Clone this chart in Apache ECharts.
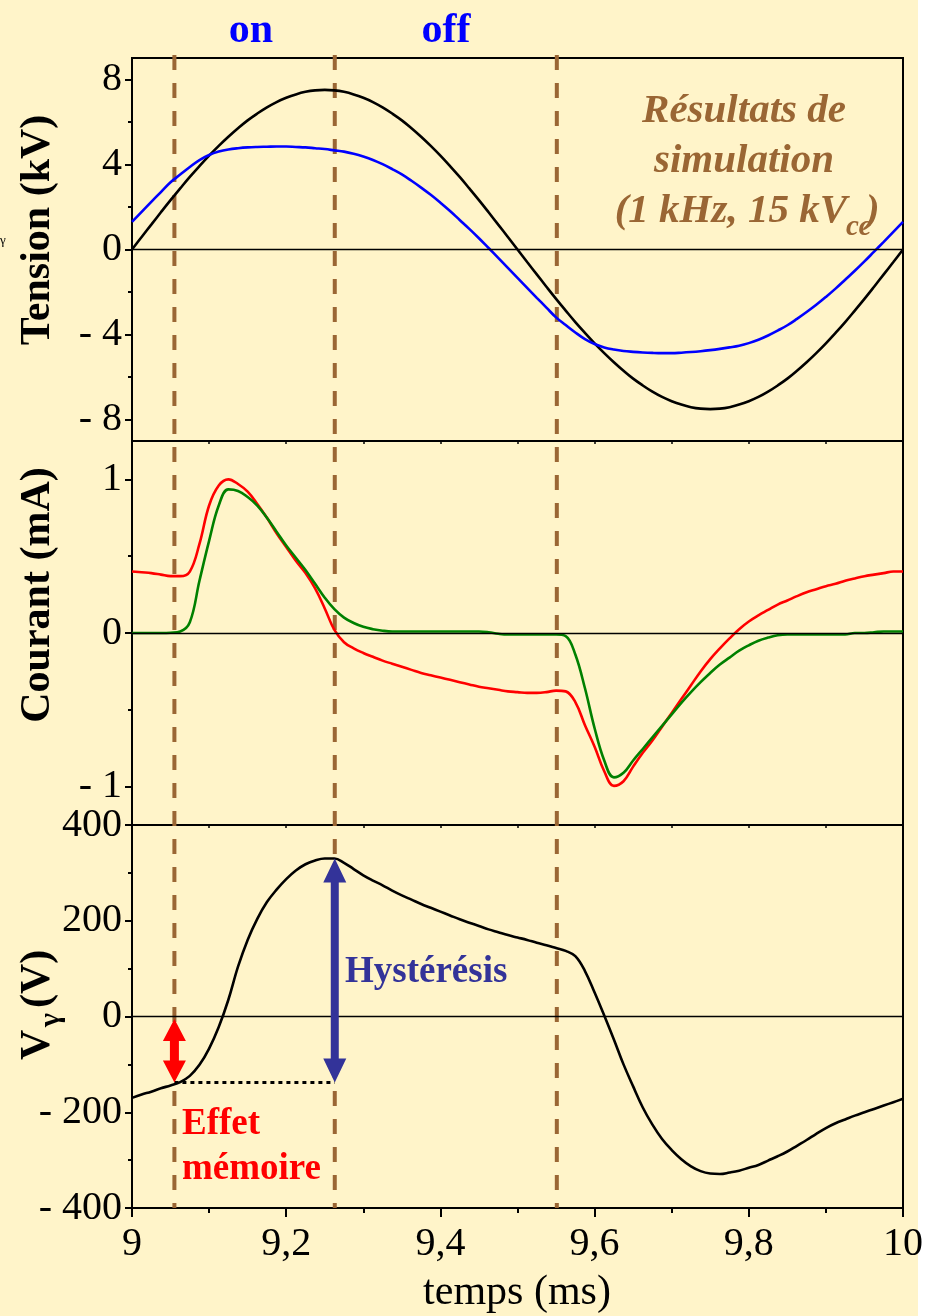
<!DOCTYPE html>
<html lang="fr">
<head>
<meta charset="utf-8">
<title>Décharge à barrière diélectrique – résultats de simulation</title>
<script src="https://cdn.jsdelivr.net/npm/echarts@6/dist/echarts.min.js"></script>
<style>
  html, body { margin: 0; padding: 0; background: #ffffff; }
  #chart {
    width: 941px; height: 1316px;
    background: linear-gradient(to right, #FFF4C9 0, #FFF4C9 918px, #ffffff 918px);
  }
</style>
</head>
<body>
<div id="chart"></div>
<script>
// Temps (ms), pas de 12,5 µs
const temps = [
  9.0000, 9.0125, 9.0250, 9.0375, 9.0500, 9.0625, 9.0750, 9.0875, 9.1000, 9.1125,
  9.1250, 9.1375, 9.1500, 9.1625, 9.1750, 9.1875, 9.2000, 9.2125, 9.2250, 9.2375,
  9.2500, 9.2625, 9.2750, 9.2875, 9.3000, 9.3125, 9.3250, 9.3375, 9.3500, 9.3625,
  9.3750, 9.3875, 9.4000, 9.4125, 9.4250, 9.4375, 9.4500, 9.4625, 9.4750, 9.4875,
  9.5000, 9.5125, 9.5250, 9.5375, 9.5500, 9.5625, 9.5750, 9.5875, 9.6000, 9.6125,
  9.6250, 9.6375, 9.6500, 9.6625, 9.6750, 9.6875, 9.7000, 9.7125, 9.7250, 9.7375,
  9.7500, 9.7625, 9.7750, 9.7875, 9.8000, 9.8125, 9.8250, 9.8375, 9.8500, 9.8625,
  9.8750, 9.8875, 9.9000, 9.9125, 9.9250, 9.9375, 9.9500, 9.9625, 9.9750, 9.9875,
  10.0000
];

// Tension appliquée (kV)
const tensionAppliquee = [
  0, 0.59, 1.17, 1.75, 2.32, 2.87, 3.41, 3.92, 4.41, 4.87,
  5.30, 5.70, 6.07, 6.39, 6.68, 6.93, 7.13, 7.29, 7.41, 7.48,
  7.50, 7.48, 7.41, 7.29, 7.13, 6.93, 6.68, 6.39, 6.07, 5.70,
  5.30, 4.87, 4.41, 3.92, 3.41, 2.87, 2.32, 1.75, 1.17, 0.59,
  0, -0.59, -1.17, -1.75, -2.32, -2.87, -3.41, -3.92, -4.41, -4.87,
  -5.30, -5.70, -6.07, -6.39, -6.68, -6.93, -7.13, -7.29, -7.41, -7.48,
  -7.50, -7.48, -7.41, -7.29, -7.13, -6.93, -6.68, -6.39, -6.07, -5.70,
  -5.30, -4.87, -4.41, -3.92, -3.41, -2.87, -2.32, -1.75, -1.17, -0.59,
  0
];

// Tension gaz (kV)
const tensionGaz = [
  1.30, 1.77, 2.24, 2.70, 3.16, 3.52, 3.88, 4.20, 4.44, 4.60,
  4.70, 4.76, 4.80, 4.82, 4.83, 4.84, 4.84, 4.82, 4.80, 4.76,
  4.72, 4.66, 4.60, 4.50, 4.37, 4.21, 4.01, 3.78, 3.53, 3.23,
  2.91, 2.57, 2.20, 1.81, 1.39, 0.97, 0.53, 0.07, -0.39, -0.86,
  -1.33, -1.80, -2.27, -2.73, -3.19, -3.55, -3.90, -4.21, -4.44, -4.60,
  -4.70, -4.77, -4.81, -4.84, -4.86, -4.87, -4.87, -4.85, -4.82, -4.78,
  -4.73, -4.67, -4.60, -4.52, -4.40, -4.24, -4.04, -3.81, -3.56, -3.26,
  -2.94, -2.60, -2.23, -1.84, -1.42, -1.00, -0.56, -0.10, 0.36, 0.83,
  1.30
];

// Courant total (mA)
const courantTotal = [
  0.40, 0.395, 0.39, 0.38, 0.37, 0.37, 0.40, 0.58, 0.83, 0.96,
  1.00, 0.97, 0.92, 0.84, 0.75, 0.65, 0.56, 0.47, 0.39, 0.29,
  0.16, 0.02, -0.06, -0.10, -0.13, -0.155, -0.18, -0.20, -0.22, -0.24,
  -0.26, -0.275, -0.29, -0.305, -0.32, -0.335, -0.35, -0.36, -0.37, -0.38,
  -0.385, -0.39, -0.39, -0.385, -0.375, -0.38, -0.45, -0.60, -0.74, -0.90,
  -0.995, -0.965, -0.87, -0.78, -0.70, -0.61, -0.52, -0.43, -0.34, -0.25,
  -0.17, -0.10, -0.035, 0.025, 0.075, 0.115, 0.15, 0.185, 0.212, 0.24,
  0.265, 0.285, 0.305, 0.32, 0.34, 0.355, 0.37, 0.38, 0.39, 0.40,
  0.40
];

// Courant de décharge (mA)
const courantDecharge = [
  0, 0, 0, 0, 0.002, 0.01, 0.07, 0.34, 0.60, 0.83,
  0.935, 0.925, 0.885, 0.83, 0.75, 0.66, 0.57, 0.49, 0.41, 0.32,
  0.23, 0.155, 0.10, 0.065, 0.04, 0.025, 0.015, 0.01, 0.01, 0.01,
  0.01, 0.01, 0.01, 0.01, 0.01, 0.01, 0.01, 0.005, -0.005, -0.01,
  -0.01, -0.01, -0.01, -0.01, -0.01, -0.02, -0.14, -0.36, -0.62, -0.83,
  -0.94, -0.91, -0.83, -0.755, -0.68, -0.605, -0.53, -0.455, -0.385, -0.32,
  -0.26, -0.205, -0.16, -0.115, -0.08, -0.05, -0.03, -0.015, -0.01, -0.01,
  -0.01, -0.01, -0.01, -0.01, -0.01, 0, 0, 0.005, 0.01, 0.01,
  0.01
];

// Tension Vγ (V)
const tensionGamma = [
  -170, -163, -157, -150, -144, -137, -124, -101, -67, -22,
  35, 104, 160, 204, 239, 265, 287, 305, 318, 326,
  330, 330, 321, 308, 295, 284, 274, 263, 253, 244,
  235, 227, 219, 211, 203, 196, 189, 182, 176, 170,
  165, 160, 154, 149, 143, 137, 126, 95, 50, 2,
  -48, -100, -146, -190, -226, -256, -279, -298, -313, -323,
  -328, -329, -326, -322, -316, -310, -301, -292, -282, -270,
  -258, -245, -233, -223, -215, -207, -200, -193, -186, -179,
  -172
];

// Instants d'allumage / extinction (ms)
const instants = [9.055, 9.263, 9.551];

// Flèches : [temps, V début, V fin]
const flecheMemoire = [[9.055, -5, -138]];
const flecheHysteresis = [[9.263, 330, -138]];
// Niveau mémoire (V)
const niveauMemoire = [[9.055, -138], [9.263, -138]];

// Graduations
const gradTension = [-8, -4, 0, 4, 8];
const gradTensionMin = [-6, -2, 2, 6];
const gradCourant = [-1, 0, 1];
const gradCourantMin = [-0.5, 0.5];
const gradGamma = [-400, -200, 0, 200, 400];
const gradGammaMin = [-300, -100, 100, 300];

const serif = '"Liberation Serif", "Times New Roman", serif';
const brun = '#9A6634';

function paires(vals) { return temps.map((t, i) => [t, vals[i]]); }
function etiquette(v) { return v < 0 ? '- ' + Math.abs(v) : String(v); }
function etiquetteTemps(v) {
  const r = Math.round(v * 10) / 10;
  return Number.isInteger(r) ? String(r) : r.toFixed(1).replace('.', ',');
}

function axesY(grid, min, max, major, minor) {
  return [{
    type: 'value', gridIndex: grid, min: min, max: max, position: 'left',
    axisLine: { show: true, onZero: false, lineStyle: { color: '#000', width: 2 } },
    axisTick: { show: true, length: 7, customValues: major, lineStyle: { color: '#000', width: 2 } },
    axisLabel: { show: true, customValues: major, formatter: etiquette, margin: 10,
      fontSize: 40, fontFamily: serif, color: '#000' },
    splitLine: { show: false }
  }, {
    type: 'value', gridIndex: grid, min: min, max: max, position: 'left',
    axisLine: { show: false, onZero: false },
    axisTick: { show: true, length: 4, customValues: minor, lineStyle: { color: '#000', width: 2 } },
    axisLabel: { show: false },
    splitLine: { show: false }
  }];
}

function axeX(grid) {
  const bas = grid === 2;
  return {
    type: 'value', gridIndex: grid, min: 9, max: 10, interval: bas ? 0.2 : 0.1,
    axisLine: { show: bas, onZero: false, lineStyle: { color: '#000', width: 2 } },
    axisTick: { show: true, length: bas ? 9 : 3, lineStyle: { color: '#000', width: bas ? 2 : 1.5 } },
    minorTick: { show: bas, splitNumber: 2, length: 5, lineStyle: { color: '#000', width: 2 } },
    axisLabel: { show: bas, formatter: etiquetteTemps, margin: 16, fontSize: 40,
      fontFamily: serif, color: '#000' },
    splitLine: { show: false }, minorSplitLine: { show: false }
  };
}

const ligneZero = {
  silent: true, symbol: 'none', animation: false,
  label: { show: false },
  lineStyle: { color: '#000', width: 1.4, type: 'solid' },
  data: [{ yAxis: 0 }]
};

function courbe(nom, x, y, vals, couleur, avecZero) {
  const s = {
    name: nom, type: 'line', xAxisIndex: x, yAxisIndex: y,
    data: paires(vals), showSymbol: false, smooth: 0.4,
    lineStyle: { color: couleur, width: 2.6 }, itemStyle: { color: couleur },
    z: 3
  };
  if (avecZero) s.markLine = ligneZero;
  return s;
}

function fleche(donnees, couleur, largeurTete, longueurTete, demiTige) {
  return {
    type: 'custom', xAxisIndex: 2, yAxisIndex: 4, z: 6, data: donnees, silent: true,
    renderItem: function (params, api) {
      const a = api.coord([api.value(0), api.value(1)]);
      const b = api.coord([api.value(0), api.value(2)]);
      const cx = a[0], h = Math.min(a[1], b[1]), bas = Math.max(a[1], b[1]);
      const w = largeurTete / 2, l = longueurTete, s = demiTige;
      return {
        type: 'polygon',
        shape: { points: [
          [cx, h], [cx + w, h + l], [cx + s, h + l], [cx + s, bas - l], [cx + w, bas - l],
          [cx, bas], [cx - w, bas - l], [cx - s, bas - l], [cx - s, h + l], [cx - w, h + l]
        ] },
        style: { fill: couleur }
      };
    }
  };
}

const grilles = [
  { left: 132, right: 38, top: 58, height: 383 },
  { left: 132, right: 38, top: 441, height: 384 },
  { left: 132, right: 38, top: 825, height: 383 }
].map(g => Object.assign(g, { show: true, borderColor: '#000', borderWidth: 2,
  backgroundColor: 'transparent', containLabel: false, outerBoundsMode: 'none' }));

const option = {
  animation: false,
  backgroundColor: 'transparent',
  grid: grilles,
  xAxis: [axeX(0), axeX(1), axeX(2)],
  yAxis: [].concat(
    axesY(0, -9, 9, gradTension, gradTensionMin),
    axesY(1, -1.25, 1.25, gradCourant, gradCourantMin),
    axesY(2, -400, 400, gradGamma, gradGammaMin)
  ),
  series: [
    courbe('Tension appliquée', 0, 0, tensionAppliquee, '#000000', true),
    courbe('Tension gaz', 0, 0, tensionGaz, '#0000FF', false),
    courbe('Courant total', 1, 2, courantTotal, '#FF0000', true),
    courbe('Courant de décharge', 1, 2, courantDecharge, '#008000', false),
    courbe('Vγ', 2, 4, tensionGamma, '#000000', true),
    {
      type: 'line', xAxisIndex: 2, yAxisIndex: 4, data: niveauMemoire, showSymbol: false,
      lineStyle: { color: '#000', width: 3, type: [4, 4] }, z: 4, silent: true
    },
    fleche(flecheMemoire, '#FF0000', 23, 22, 4.5),
    fleche(flecheHysteresis, '#333399', 23, 24, 4)
  ]
};

const chart = echarts.init(document.getElementById('chart'));
chart.setOption(option);

// Texte horizontal posé sur sa ligne de base
function texte(str, x, base, taille, couleur, poids, style, align) {
  return {
    type: 'text', x: x, y: base - 0.34 * taille, z: 10, silent: true,
    style: { text: str, fill: couleur, align: align || 'left', verticalAlign: 'middle',
      font: (style || 'normal') + ' ' + (poids || 'normal') + ' ' + taille + 'px ' + serif }
  };
}
// Texte vertical (lu de bas en haut)
function texteVertical(str, x, y, taille, align) {
  return {
    type: 'text', x: x, y: y, rotation: Math.PI / 2, z: 10, silent: true,
    style: { text: str, fill: '#000', align: align || 'center', verticalAlign: 'middle',
      font: 'bold ' + taille + 'px ' + serif }
  };
}

const yHaut = chart.convertToPixel({ yAxisIndex: 0 }, 9);
const yBas = chart.convertToPixel({ yAxisIndex: 4 }, -400);
const tirets = instants.map(t => {
  const x = chart.convertToPixel({ xAxisIndex: 2 }, t);
  return {
    type: 'line', z: 1, silent: true,
    shape: { x1: x, y1: yHaut - 3, x2: x, y2: yBas },
    style: { stroke: brun, lineWidth: 4, lineDash: [15, 13] }
  };
});

const textes = [
  texte('on', 251, 45, 42, '#0000FF', 'bold', 'normal', 'center'),
  texte('off', 446, 45, 42, '#0000FF', 'bold', 'normal', 'center'),
  texte('Résultats de', 744, 125, 41, brun, 'bold', 'italic', 'center'),
  texte('simulation', 744, 175, 41, brun, 'bold', 'italic', 'center'),
  texte('(1 kHz, 15 kV', 847, 225, 41, brun, 'bold', 'italic', 'right'),
  texte('cc', 846, 237, 29, brun, 'bold', 'italic', 'left'),
  texte(')', 866, 225, 41, brun, 'bold', 'italic', 'left'),
  texte('Hystérésis', 345, 985, 37, '#333399', 'bold', 'normal', 'left'),
  texte('Effet', 182, 1137, 37, '#FF0000', 'bold', 'normal', 'left'),
  texte('mémoire', 182, 1182, 37, '#FF0000', 'bold', 'normal', 'left'),
  texte('temps (ms)', 517, 1307, 42, '#000', 'normal', 'normal', 'center'),
  texte('γ', 0, 245, 13, '#000', 'normal', 'normal', 'left'),
  texteVertical('Tension (kV)', 38, 230, 42),
  texteVertical('Courant (mA)', 38, 595, 42),
  texteVertical('V', 38, 1060, 42, 'left'),
  texteVertical('γ', 51, 1027, 30, 'left'),
  texteVertical('(V)', 38, 1008, 42, 'left')
];

chart.setOption({ graphic: textes.concat(tirets) });
</script>
</body>
</html>
